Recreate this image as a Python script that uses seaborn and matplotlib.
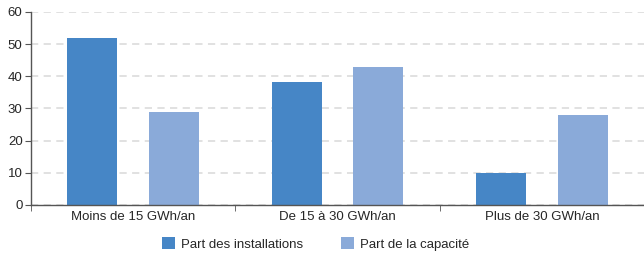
import pandas as pd
import matplotlib.pyplot as plt
import seaborn as sns

categories = ['Moins de 15 GWh/an', 'De 15 à 30 GWh/an', 'Plus de 30 GWh/an']
part_installations = [52, 38.2, 10]
part_capacite = [29, 43, 28]
series = ['Part des installations', 'Part de la capacité']

df = pd.DataFrame({
    'cat': categories * 2,
    'val': part_installations + part_capacite,
    'serie': [series[0]] * 3 + [series[1]] * 3,
})

sns.set_style('white')
plt.rcParams['font.family'] = ['Liberation Sans', 'DejaVu Sans']

fig = plt.figure(figsize=(6.44, 2.54), dpi=100)
ax = fig.add_axes([0.048, 0.193, 0.952, 0.76])

sns.barplot(data=df, x='cat', y='val', hue='serie', ax=ax,
            palette=['#4686c6', '#8aaad9'], width=0.8, gap=0.39,
            saturation=1, linewidth=0)

ax.set_ylim(0, 60)
ax.set_xlim(-0.5, 2.5)
ax.set_yticks(range(0, 61, 10))
ax.set_xlabel('')
ax.set_ylabel('')
ax.yaxis.grid(True, color='#dedede', linestyle=(0, (4, 3)), linewidth=1.3)
ax.set_axisbelow(True)

for s in ['top', 'right']:
    ax.spines[s].set_visible(False)
for s in ['left', 'bottom']:
    ax.spines[s].set_color('#555555')
    ax.spines[s].set_linewidth(1)

ax.tick_params(axis='y', length=4, color='#555555', labelsize=9.5, pad=2, left=True)
ax.tick_params(axis='x', length=0, labelsize=9.5, pad=4)
ax.set_xticks([-0.5, 0.5, 1.5, 2.5], minor=True)
ax.tick_params(axis='x', which='minor', length=4, color='#555555', bottom=True)

ax.legend(loc='center', bbox_to_anchor=(0.49, 0.039), bbox_transform=fig.transFigure,
          ncol=2, frameon=False, borderpad=0, borderaxespad=0,
          fontsize=9.5, handlelength=1.0, handleheight=1.0, handletextpad=0.4,
          columnspacing=2.9)

fig.savefig('out.png', dpi=100)
